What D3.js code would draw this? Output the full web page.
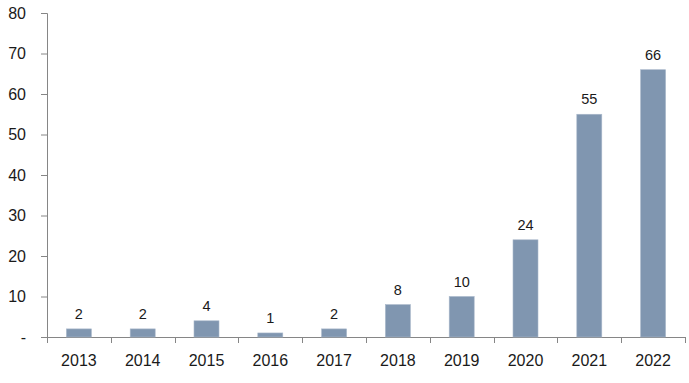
<!DOCTYPE html>
<html><head><meta charset="utf-8">
<script src="https://cdn.jsdelivr.net/npm/d3@7"></script>
<style>body{margin:0;background:#fff}svg{display:block}text{font-family:"Liberation Sans",Arial,sans-serif}</style>
</head><body>
<svg id="c" width="689" height="383"></svg>
<script>
const years = ["2013","2014","2015","2016","2017","2018","2019","2020","2021","2022"];
const values = [2,2,4,1,2,8,10,24,55,66];
const yTicks = [0,10,20,30,40,50,60,70,80];

const svg = d3.select("#c");
const m = {left:47, right:685, top:13, bottom:337};
const x = d3.scaleBand().domain(years).range([m.left, m.right]).paddingInner(0).paddingOuter(0);
const y = d3.scaleLinear().domain([0,80]).range([m.bottom, m.top]);
const axisColor = "#868686";

// y axis
const ya = svg.append("g").attr("transform",`translate(${m.left},0)`)
  .call(d3.axisLeft(y).tickValues(yTicks).tickSize(6).tickPadding(15).tickFormat(d => d===0 ? "-" : d));
ya.select(".domain").attr("stroke",axisColor).attr("d",`M-6,${m.top}.5H0.5V${m.bottom}`);
ya.selectAll(".tick line").attr("stroke",axisColor);
ya.selectAll(".tick text").attr("fill","#1a1a1a").attr("font-size",16);

// x axis
const xa = svg.append("g").attr("transform",`translate(0,${m.bottom})`)
  .call(d3.axisBottom(x).tickSize(0).tickPadding(18));
xa.select(".domain").attr("stroke",axisColor);
xa.selectAll(".tick text").attr("fill","#1a1a1a").attr("font-size",16);
const bounds = years.map(d => x(d)).concat([m.right]);
xa.selectAll(".xt").data(bounds).join("line").attr("class","xt")
  .attr("x1",d=>Math.round(d)+0.5).attr("x2",d=>Math.round(d)+0.5).attr("y1",0).attr("y2",6)
  .attr("stroke",axisColor);

// bars
const bw = 25;
svg.append("g").selectAll("rect").data(values).join("rect")
  .attr("x",(d,i)=> x(years[i]) + x.bandwidth()/2 - bw/2)
  .attr("y",d=>y(d))
  .attr("width",bw)
  .attr("height",d=>m.bottom - y(d))
  .attr("fill","#8096b0")
  .attr("stroke","#a9b8cb").attr("stroke-width",0.6);

// labels
svg.append("g").selectAll("text").data(values).join("text")
  .attr("x",(d,i)=> x(years[i]) + x.bandwidth()/2)
  .attr("y",d=>y(d) - 10)
  .attr("text-anchor","middle")
  .attr("font-size",14.5).attr("fill","#1a1a1a")
  .text(d=>d);
</script>
</body></html>
